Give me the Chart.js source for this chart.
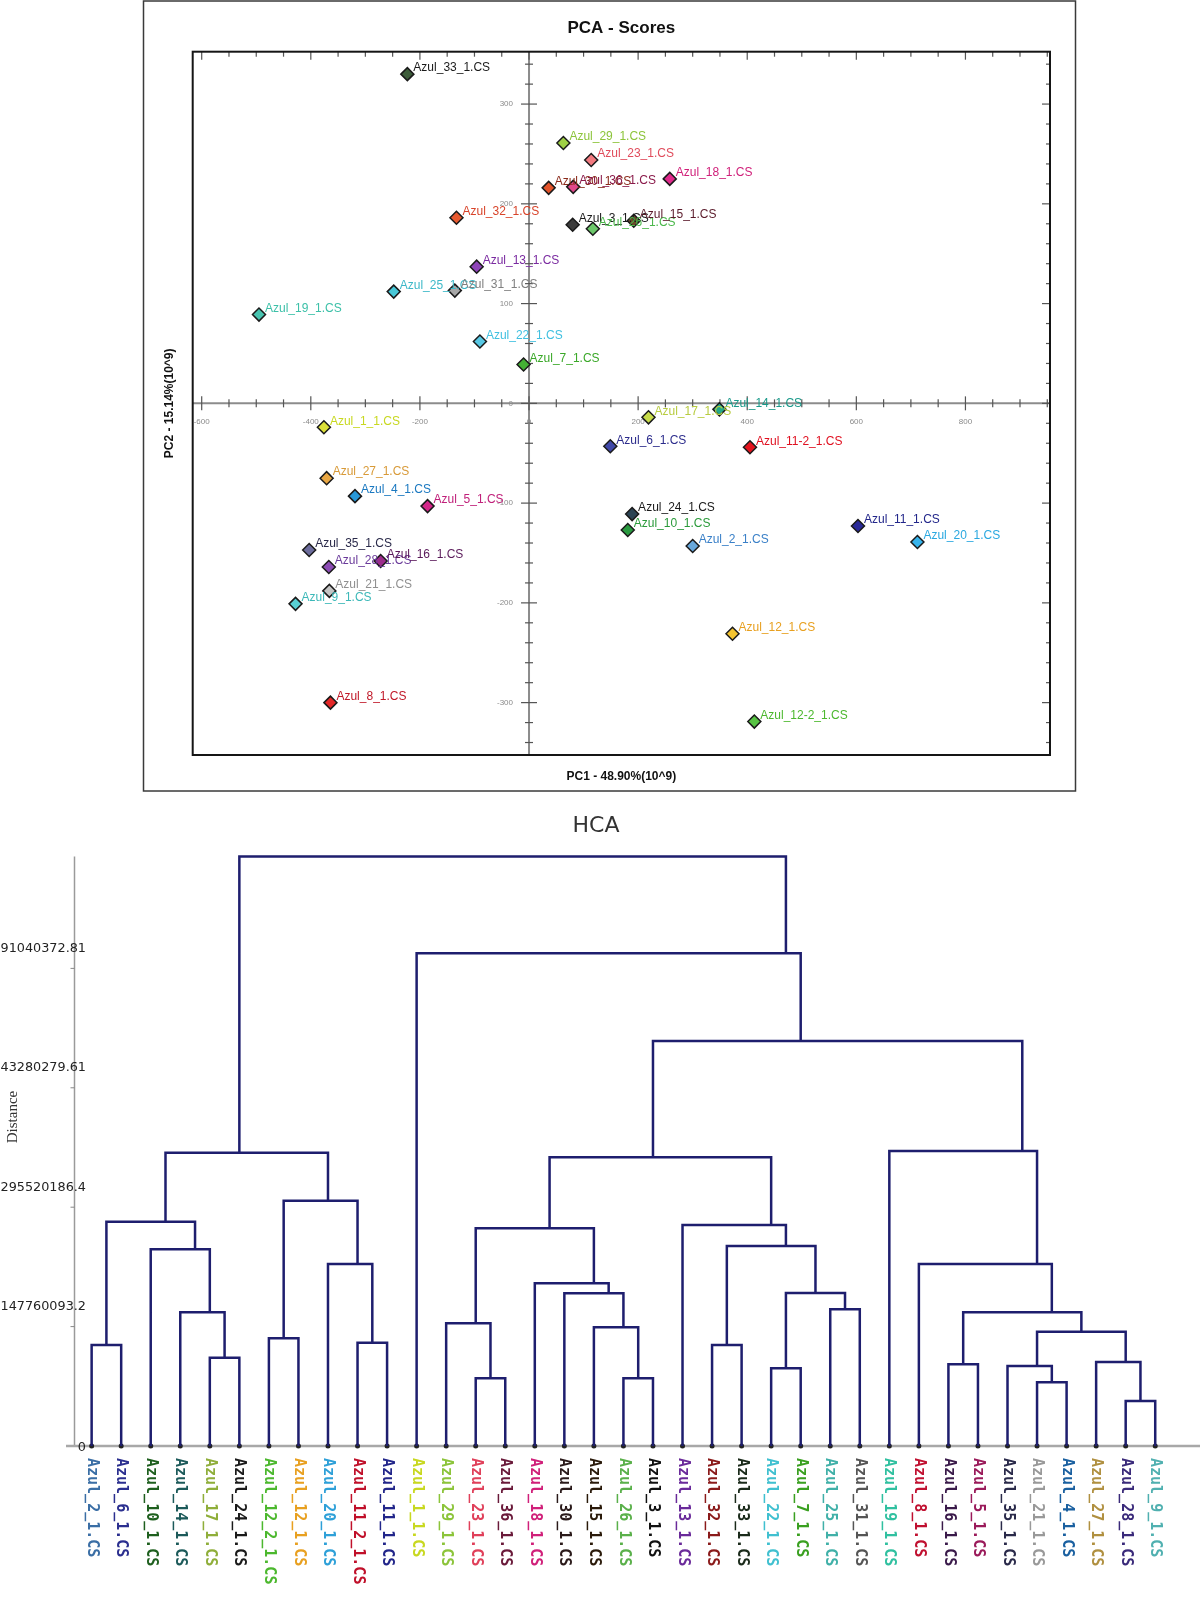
<!DOCTYPE html>
<html>
<head>
<meta charset="utf-8">
<title>PCA - Scores / HCA</title>
<script src="https://cdn.jsdelivr.net/npm/chart.js@4.4.1/dist/chart.umd.min.js"></script>
<style>
  html, body { margin: 0; padding: 0; background: #fff; }
  #page { position: relative; width: 1200px; height: 1599px; overflow: hidden; }
  canvas { position: absolute; left: 0; }
  #pcaChart { top: 0; width: 1200px; height: 800px; }
  #hcaChart { top: 800px; width: 1200px; height: 799px; }
</style>
</head>
<body>
<div id="page">
  <canvas id="pcaChart" width="1200" height="800"></canvas>
  <canvas id="hcaChart" width="1200" height="799"></canvas>
</div>
<script>
// ---- PCA scores (PC1 / PC2, x10^9) ----
const pcaNames = ['Azul_33_1.CS', 'Azul_29_1.CS', 'Azul_23_1.CS', 'Azul_30_1.CS', 'Azul_36_1.CS', 'Azul_18_1.CS',
  'Azul_32_1.CS', 'Azul_3_1.CS', 'Azul_26_1.CS', 'Azul_15_1.CS', 'Azul_13_1.CS', 'Azul_25_1.CS', 'Azul_31_1.CS',
  'Azul_19_1.CS', 'Azul_22_1.CS', 'Azul_7_1.CS', 'Azul_14_1.CS', 'Azul_17_1.CS', 'Azul_1_1.CS', 'Azul_6_1.CS',
  'Azul_11-2_1.CS', 'Azul_27_1.CS', 'Azul_4_1.CS', 'Azul_5_1.CS', 'Azul_24_1.CS', 'Azul_10_1.CS', 'Azul_11_1.CS',
  'Azul_20_1.CS', 'Azul_2_1.CS', 'Azul_35_1.CS', 'Azul_28_1.CS', 'Azul_16_1.CS', 'Azul_21_1.CS', 'Azul_9_1.CS',
  'Azul_12_1.CS', 'Azul_8_1.CS', 'Azul_12-2_1.CS'];
const pc1 = [-223, 63, 114, 36, 81, 258, -133, 80, 117, 192, -96, -248, -136, -495, -90, -10, 349, 219, -376, 149,
  405, -371, -319, -186, 189, 181, 603, 712, 300, -403, -367, -272, -366, -428, 373, -364, 413];
const pc2 = [330, 261, 244, 216, 217, 225, 186, 179, 175, 183, 137, 112, 113, 89, 62, 39, -6, -14, -24, -43,
  -44, -75, -93, -103, -111, -127, -123, -139, -143, -147, -164, -158, -188, -201, -231, -300, -319];
const pcaFill = ['#3d5c3a', '#9fd046', '#f27a80', '#e2532a', '#e0488a', '#e02a8c', '#e85a30', '#3c3c3c', '#6cc86a',
  '#6a4a2a', '#8e44b8', '#48c8d8', '#a8a8a8', '#48c4b0', '#58c8e4', '#44b034', '#24a88a', '#c8dc4a', '#dce03a',
  '#4048a8', '#e4141e', '#eaa844', '#2898d8', '#d4288a', '#2c4454', '#2a9a40', '#2a2a98', '#38b4ec', '#68a8dc',
  '#6c6c9c', '#8c4cb4', '#9c2c8c', '#c4c4c4', '#58d0d4', '#f4c430', '#e42828', '#58c444'];
const pcaText = ['#1a1a1a', '#8cc43a', '#e04c5c', '#8a2a1a', '#8a1a4a', '#d0207a', '#d8442a', '#1a1a1a', '#4cb84c',
  '#5a1a2a', '#7a2aa0', '#3cb8c8', '#808080', '#3cc0a8', '#40c0e0', '#3aa828', '#1a9a8a', '#b8cc40', '#c8d820',
  '#2c2c8c', '#e01020', '#d89a38', '#1a78c0', '#c0207a', '#1a1a1a', '#2a9a3a', '#22268a', '#2aa8e0', '#3a80c8',
  '#2a2a4a', '#6a3a9a', '#5a1a5a', '#909090', '#3cb8b8', '#e8a020', '#c01828', '#4cb82e'];
const pcaXTicks = [-600, -400, -200, 0, 200, 400, 600, 800];
const pcaYTicks = [-300, -200, -100, 0, 100, 200, 300];
const pcaXTitle = 'PC1 - 48.90%(10^9)';
const pcaYTitle = 'PC2 - 15.14%(10^9)';

// ---- HCA dendrogram ----
const hcaLeaves = ['Azul_2_1.CS', 'Azul_6_1.CS', 'Azul_10_1.CS', 'Azul_14_1.CS', 'Azul_17_1.CS', 'Azul_24_1.CS',
  'Azul_12_2_1.CS', 'Azul_12_1.CS', 'Azul_20_1.CS', 'Azul_11_2_1.CS', 'Azul_11_1.CS', 'Azul_1_1.CS',
  'Azul_29_1.CS', 'Azul_23_1.CS', 'Azul_36_1.CS', 'Azul_18_1.CS', 'Azul_30_1.CS', 'Azul_15_1.CS', 'Azul_26_1.CS',
  'Azul_3_1.CS', 'Azul_13_1.CS', 'Azul_32_1.CS', 'Azul_33_1.CS', 'Azul_22_1.CS', 'Azul_7_1.CS', 'Azul_25_1.CS',
  'Azul_31_1.CS', 'Azul_19_1.CS', 'Azul_8_1.CS', 'Azul_16_1.CS', 'Azul_5_1.CS', 'Azul_35_1.CS', 'Azul_21_1.CS',
  'Azul_4_1.CS', 'Azul_27_1.CS', 'Azul_28_1.CS', 'Azul_9_1.CS'];
const hcaLeafColors = ['#3a6ea5', '#2b2f8f', '#1e5f1e', '#1c5a5a', '#8fae3a', '#1a1a1a', '#4cb82e', '#e8a020',
  '#2ea0d8', '#c0102a', '#22268a', '#c8d820', '#8cc43a', '#e0405a', '#6a1a3a', '#d0207a', '#2a1a1a', '#2a1a0a',
  '#5ab04a', '#111111', '#6a2a9a', '#8a1a1a', '#1a2a1a', '#40c0d0', '#3aa020', '#40b0a8', '#555555', '#30c0a0',
  '#c01030', '#3a1a4a', '#9a1a5a', '#2a2a4a', '#999999', '#1a60a0', '#b09040', '#3a2a7a', '#50b0b0'];
// merges: ids < 37 are leaves, id 37 + k is merge k; heights in millions
const mergeA = [0, 4, 3, 2, 37, 6, 9, 8, 42, 41, 13, 12, 18, 17, 16, 15, 48, 21, 23, 25, 55, 54, 20, 53,
  29, 32, 31, 35, 34, 63, 61, 28, 27, 60, 11, 46];
const mergeB = [1, 5, 38, 39, 40, 7, 10, 43, 44, 45, 14, 47, 19, 49, 50, 51, 52, 22, 24, 26, 56, 57, 58, 59,
  30, 33, 62, 36, 64, 65, 66, 67, 68, 69, 70, 71];
const mergeHeight = [125.0, 109.3, 165.5, 243.4, 277.6, 133.3, 127.8, 225.2, 303.6, 363.0, 83.8, 151.8, 83.8,
  146.9, 189.0, 201.3, 269.4, 125.0, 96.2, 169.2, 189.3, 247.5, 273.5, 357.3, 101.1, 78.8, 99.0, 55.7, 104.0,
  141.4, 165.5, 225.2, 365.1, 501.2, 609.7, 729.5];
const hcaTickValues = [0, 147.7600932, 295.5201864, 443.2802796, 591.0403728];
const hcaTickLabels = ['0', '147760093.2', '295520186.4', '43280279.61', '91040372.81'];

function line(ctx, x1, y1, x2, y2) {
  ctx.beginPath();
  ctx.moveTo(x1, y1);
  ctx.lineTo(x2, y2);
  ctx.stroke();
}

// Axes through the origin, framed box, titles and point labels
const pcaDecor = {
  id: 'pcaDecor',
  beforeDatasetsDraw(chart) {
    const { ctx, chartArea: a, scales: { x, y } } = chart;
    const x0 = x.getPixelForValue(0);
    const y0 = y.getPixelForValue(0);
    ctx.save();
    ctx.strokeStyle = '#3a3a3a';
    ctx.lineWidth = 1.5;
    ctx.strokeRect(143.5, 1, 932, 790);

    ctx.fillStyle = '#111';
    ctx.textAlign = 'center';
    ctx.textBaseline = 'middle';
    ctx.font = 'bold 17px "Liberation Sans", Arial, sans-serif';
    ctx.fillText('PCA - Scores', (a.left + a.right) / 2, 28);
    ctx.font = 'bold 12px "Liberation Sans", Arial, sans-serif';
    ctx.fillText(pcaXTitle, (a.left + a.right) / 2, 777);
    ctx.save();
    ctx.translate(170, (a.top + a.bottom) / 2);
    ctx.rotate(-Math.PI / 2);
    ctx.fillText(pcaYTitle, 0, 0);
    ctx.restore();

    ctx.strokeStyle = '#8c8c8c';
    ctx.lineWidth = 2;
    line(ctx, a.left, y0, a.right, y0);
    line(ctx, x0, a.top, x0, a.bottom);

    ctx.strokeStyle = '#555';
    ctx.lineWidth = 1.2;
    for (let v = -600; v <= x.max; v += 50) {
      const px = x.getPixelForValue(v);
      const big = v % 200 === 0;
      const t = big ? 7 : 4;
      line(ctx, px, y0 - t, px, y0 + t);
      line(ctx, px, a.top, px, a.top + (big ? 8 : 5));
    }
    for (let v = -340; v <= 340; v += 20) {
      const py = y.getPixelForValue(v);
      const big = v % 100 === 0;
      const t = big ? 8 : 4;
      line(ctx, x0 - t, py, x0 + t, py);
      line(ctx, a.right - (big ? 8 : 4), py, a.right, py);
    }

    ctx.fillStyle = '#8a8a8a';
    ctx.font = '8px "Liberation Sans", Arial, sans-serif';
    ctx.textAlign = 'center';
    pcaXTicks.forEach(v => ctx.fillText(String(v), x.getPixelForValue(v), y0 + 18));
    ctx.textAlign = 'right';
    pcaYTicks.forEach(v => ctx.fillText(String(v), x0 - 16, y.getPixelForValue(v)));

    ctx.strokeStyle = '#151515';
    ctx.lineWidth = 2;
    ctx.strokeRect(a.left, a.top, a.right - a.left, a.bottom - a.top);
    ctx.restore();
  },
  afterDatasetsDraw(chart) {
    const { ctx } = chart;
    const meta = chart.getDatasetMeta(0);
    ctx.save();
    ctx.font = '12px "Liberation Sans", Arial, sans-serif';
    ctx.textAlign = 'left';
    ctx.textBaseline = 'middle';
    meta.data.forEach((pt, i) => {
      ctx.fillStyle = pcaText[i];
      ctx.fillText(pcaNames[i], pt.x + 6, pt.y - 6);
    });
    ctx.restore();
  }
};

new Chart(document.getElementById('pcaChart'), {
  type: 'scatter',
  data: {
    datasets: [{
      data: pcaNames.map((name, i) => ({ x: pc1[i], y: pc2[i] })),
      pointStyle: 'rectRot',
      pointRadius: 6.5,
      backgroundColor: pcaFill,
      borderColor: '#1a1a1a',
      borderWidth: 1.5,
      clip: false
    }]
  },
  options: {
    responsive: false,
    animation: false,
    devicePixelRatio: 1,
    events: [],
    layout: { padding: { left: 192.7, top: 51.7, right: 150, bottom: 45 } },
    plugins: { legend: { display: false }, tooltip: { enabled: false } },
    scales: {
      x: { type: 'linear', min: -616.5, max: 955, display: false },
      y: { type: 'linear', min: -352.5, max: 352.5, display: false }
    }
  },
  plugins: [pcaDecor]
});

// Build the dendrogram links; a cluster sits at the mean position of its leaves
const nodeX = hcaLeaves.map((name, i) => i);
const nodeH = hcaLeaves.map(() => 0);
const nodeN = hcaLeaves.map(() => 1);
const links = mergeA.map((a, k) => {
  const b = mergeB[k];
  const h = mergeHeight[k];
  const pts = [
    { x: nodeX[a], y: nodeH[a] }, { x: nodeX[a], y: h },
    { x: nodeX[b], y: h }, { x: nodeX[b], y: nodeH[b] }
  ];
  const size = nodeN[a] + nodeN[b];
  nodeX.push((nodeX[a] * nodeN[a] + nodeX[b] * nodeN[b]) / size);
  nodeN.push(size);
  nodeH.push(h);
  return {
    data: pts,
    showLine: true,
    borderColor: '#1e1e6e',
    borderWidth: 2.5,
    borderJoinStyle: 'miter',
    pointRadius: 0,
    tension: 0,
    clip: false
  };
});

const hcaDecor = {
  id: 'hcaDecor',
  beforeDatasetsDraw(chart) {
    const { ctx, chartArea: a, scales: { y } } = chart;
    const base = y.getPixelForValue(0);
    ctx.save();
    ctx.fillStyle = '#333';
    ctx.textAlign = 'center';
    ctx.textBaseline = 'middle';
    ctx.font = '22px "DejaVu Sans", Verdana, sans-serif';
    ctx.fillText('HCA', 596, 26);

    ctx.strokeStyle = '#9a9a9a';
    ctx.lineWidth = 1.5;
    line(ctx, a.left, a.top, a.left, base);
    ctx.strokeStyle = '#a8a8a8';
    ctx.lineWidth = 2.5;
    line(ctx, 66, base, 1200, base);

    ctx.strokeStyle = '#888';
    ctx.lineWidth = 1;
    ctx.fillStyle = '#222';
    ctx.font = '12.8px "DejaVu Sans", Verdana, sans-serif';
    ctx.textAlign = 'right';
    hcaTickValues.forEach((v, i) => {
      const py = y.getPixelForValue(v);
      if (v > 0) line(ctx, a.left - 4, py, a.left, py);
      ctx.fillText(hcaTickLabels[i], 86, v > 0 ? py - 20 : py + 2);
    });

    ctx.save();
    ctx.translate(13, 317);
    ctx.rotate(-Math.PI / 2);
    ctx.font = '15px "Liberation Serif", serif';
    ctx.textAlign = 'center';
    ctx.fillStyle = '#333';
    ctx.fillText('Distance', 0, 0);
    ctx.restore();
    ctx.restore();
  },
  afterDatasetsDraw(chart) {
    const { ctx, scales: { x, y } } = chart;
    const base = y.getPixelForValue(0);
    ctx.save();
    ctx.font = 'bold 15px "DejaVu Sans Mono", monospace';
    ctx.textAlign = 'left';
    ctx.textBaseline = 'middle';
    hcaLeaves.forEach((name, i) => {
      ctx.save();
      ctx.translate(x.getPixelForValue(i), base + 12);
      ctx.rotate(Math.PI / 2);
      ctx.fillStyle = hcaLeafColors[i];
      ctx.fillText(name, 0, 0);
      ctx.restore();
    });
    ctx.restore();
  }
};

new Chart(document.getElementById('hcaChart'), {
  type: 'scatter',
  data: {
    datasets: links.concat([{
      data: hcaLeaves.map((name, i) => ({ x: i, y: 0 })),
      pointRadius: 2.5,
      backgroundColor: '#222',
      borderWidth: 0,
      showLine: false,
      clip: false
    }])
  },
  options: {
    responsive: false,
    animation: false,
    devicePixelRatio: 1,
    events: [],
    layout: { padding: { left: 74.5, top: 56.5, right: 0, bottom: 153 } },
    plugins: { legend: { display: false }, tooltip: { enabled: false } },
    scales: {
      x: { type: 'linear', min: -0.58, max: 37.38, display: false },
      y: { type: 'linear', min: 0, max: 729.5, display: false }
    }
  },
  plugins: [hcaDecor]
});
</script>
</body>
</html>
